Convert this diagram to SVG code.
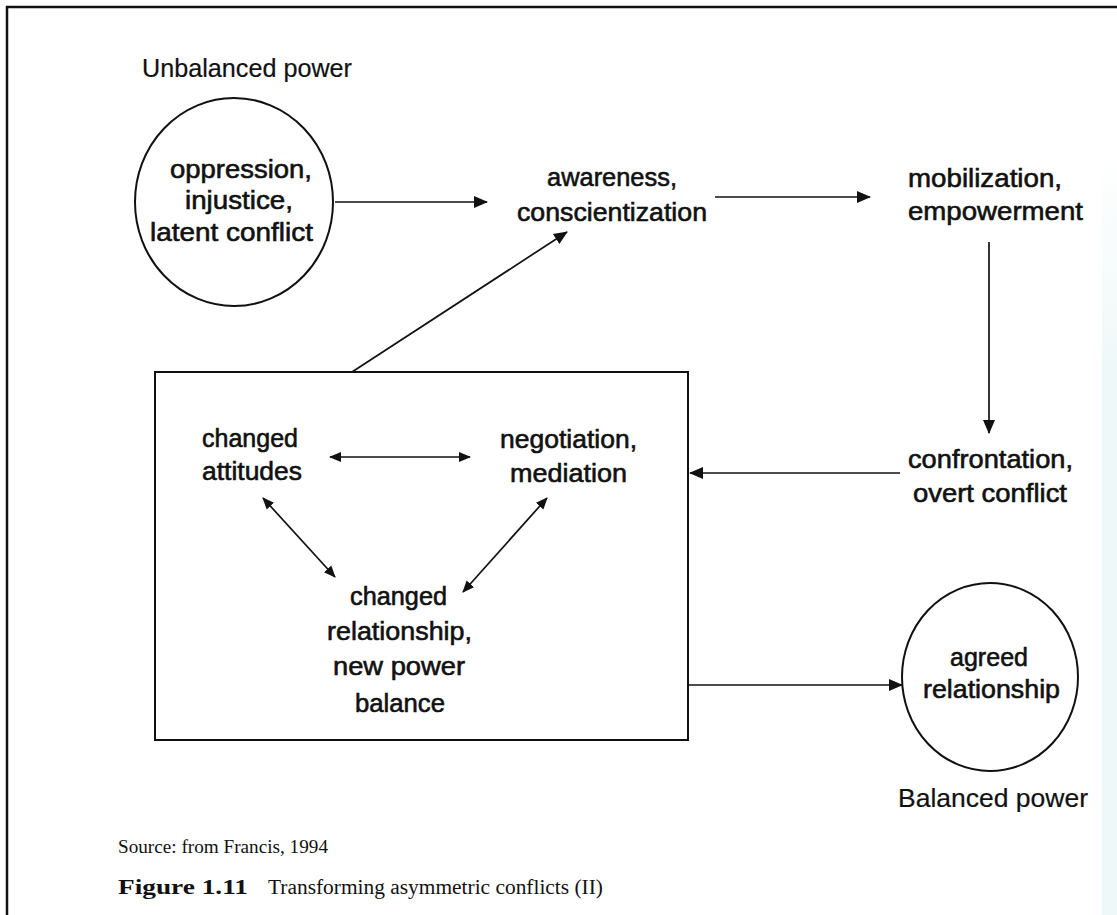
<svg xmlns="http://www.w3.org/2000/svg" width="1117" height="915" viewBox="0 0 1117 915">
  <defs>
    <marker id="head" markerUnits="userSpaceOnUse" markerWidth="14" markerHeight="14" viewBox="0 0 14 14" refX="13" refY="7" orient="auto-start-reverse">
      <path d="M0,1 L14,7 L0,13 z" fill="#111"/>
    </marker>
    <marker id="headS" markerUnits="userSpaceOnUse" markerWidth="12" markerHeight="12" viewBox="0 0 12 12" refX="11" refY="6" orient="auto-start-reverse">
      <path d="M0,1 L12,6 L0,11 z" fill="#111"/>
    </marker>
    <linearGradient id="edge" x1="0" y1="0" x2="0" y2="1">
      <stop offset="0" stop-color="#eef8f8" stop-opacity="0"/>
      <stop offset="0.3" stop-color="#eef8f8" stop-opacity="1"/>
      <stop offset="1" stop-color="#eef8f8" stop-opacity="1"/>
    </linearGradient>
  </defs>
  <style>
    .lbl { font-family: "Liberation Sans", Arial, sans-serif; font-size: 26px; fill: #111; stroke: #111; stroke-width: 0.6; }
    .cap { font-family: "Liberation Sans", Arial, sans-serif; font-size: 25px; fill: #111; stroke: #111; stroke-width: 0.2; }
    .ser { font-family: "Liberation Serif", serif; font-size: 19px; fill: #111; }
    .serb { font-family: "Liberation Serif", serif; font-size: 20px; font-weight: bold; fill: #111; }
    .ser2 { font-family: "Liberation Serif", serif; font-size: 20px; fill: #111; }
    .shape { fill: none; stroke: #111; stroke-width: 2; }
    .conn { fill: none; stroke: #111; stroke-width: 1.7; }
  </style>
  <rect x="0" y="0" width="1117" height="915" fill="#ffffff"/>
  <rect x="1102" y="150" width="15" height="765" fill="url(#edge)"/>
  <!-- frame -->
  <line x1="6" y1="7" x2="1117" y2="7" stroke="#111" stroke-width="2.5"/>
  <line x1="7" y1="6" x2="7" y2="915" stroke="#111" stroke-width="2.5"/>

  <g id="label-unbalanced">
    <text class="cap" x="142" y="77" textLength="210" lengthAdjust="spacingAndGlyphs">Unbalanced power</text>
  </g>

  <g id="node-oppression">
    <ellipse class="shape" cx="234" cy="202" rx="99" ry="104"/>
    <text class="lbl" x="170" y="178" textLength="142" lengthAdjust="spacingAndGlyphs">oppression,</text>
    <text class="lbl" x="185" y="209" textLength="108" lengthAdjust="spacingAndGlyphs">injustice,</text>
    <text class="lbl" x="150" y="241" textLength="163" lengthAdjust="spacingAndGlyphs">latent conflict</text>
  </g>

  <g id="node-awareness">
    <text class="lbl" x="547" y="186" textLength="130" lengthAdjust="spacingAndGlyphs">awareness,</text>
    <text class="lbl" x="517" y="221" textLength="190" lengthAdjust="spacingAndGlyphs">conscientization</text>
  </g>

  <g id="node-mobilization">
    <text class="lbl" x="908" y="187" textLength="154" lengthAdjust="spacingAndGlyphs">mobilization,</text>
    <text class="lbl" x="908" y="220" textLength="175" lengthAdjust="spacingAndGlyphs">empowerment</text>
  </g>

  <g id="node-confrontation">
    <text class="lbl" x="908" y="468" textLength="165" lengthAdjust="spacingAndGlyphs">confrontation,</text>
    <text class="lbl" x="913" y="502" textLength="154" lengthAdjust="spacingAndGlyphs">overt conflict</text>
  </g>

  <g id="node-box">
    <rect class="shape" x="155" y="372" width="533" height="368"/>
  </g>

  <g id="node-attitudes">
    <text class="lbl" x="202" y="447" textLength="96" lengthAdjust="spacingAndGlyphs">changed</text>
    <text class="lbl" x="202" y="480" textLength="100" lengthAdjust="spacingAndGlyphs">attitudes</text>
  </g>

  <g id="node-negotiation">
    <text class="lbl" x="500" y="448" textLength="137" lengthAdjust="spacingAndGlyphs">negotiation,</text>
    <text class="lbl" x="510" y="482" textLength="117" lengthAdjust="spacingAndGlyphs">mediation</text>
  </g>

  <g id="node-relationship">
    <text class="lbl" x="350" y="605" textLength="97" lengthAdjust="spacingAndGlyphs">changed</text>
    <text class="lbl" x="327" y="640" textLength="145" lengthAdjust="spacingAndGlyphs">relationship,</text>
    <text class="lbl" x="333" y="675" textLength="132" lengthAdjust="spacingAndGlyphs">new power</text>
    <text class="lbl" x="355" y="712" textLength="90" lengthAdjust="spacingAndGlyphs">balance</text>
  </g>

  <g id="node-agreed">
    <ellipse class="shape" cx="990" cy="677" rx="88" ry="94"/>
    <text class="lbl" x="950" y="666" textLength="78" lengthAdjust="spacingAndGlyphs">agreed</text>
    <text class="lbl" x="923" y="698" textLength="137" lengthAdjust="spacingAndGlyphs">relationship</text>
  </g>

  <g id="label-balanced">
    <text class="cap" x="898" y="807" textLength="190" lengthAdjust="spacingAndGlyphs">Balanced power</text>
  </g>

  <g id="connectors">
    <line class="conn" x1="335" y1="202" x2="487" y2="202" marker-end="url(#head)"/>
    <line class="conn" x1="715" y1="197" x2="870" y2="197" marker-end="url(#head)"/>
    <line class="conn" x1="989" y1="242" x2="989" y2="433" marker-end="url(#head)"/>
    <line class="conn" x1="900" y1="473" x2="690" y2="473" marker-end="url(#head)"/>
    <line class="conn" x1="352" y1="372" x2="567" y2="232" marker-end="url(#head)"/>
    <line class="conn" x1="688" y1="685" x2="902" y2="685" marker-end="url(#head)"/>
    <line class="conn" x1="330" y1="457" x2="470" y2="457" marker-start="url(#headS)" marker-end="url(#headS)"/>
    <line class="conn" x1="263" y1="498" x2="335" y2="577" marker-start="url(#headS)" marker-end="url(#headS)"/>
    <line class="conn" x1="547" y1="498" x2="463" y2="592" marker-start="url(#headS)" marker-end="url(#headS)"/>
  </g>

  <g id="caption">
    <text class="ser" x="118" y="853" textLength="210" lengthAdjust="spacingAndGlyphs">Source: from Francis, 1994</text>
    <text class="serb" x="118" y="894" textLength="130" lengthAdjust="spacingAndGlyphs">Figure 1.11</text>
    <text class="ser2" x="268" y="894" textLength="335" lengthAdjust="spacingAndGlyphs">Transforming asymmetric conflicts (II)</text>
  </g>
</svg>
